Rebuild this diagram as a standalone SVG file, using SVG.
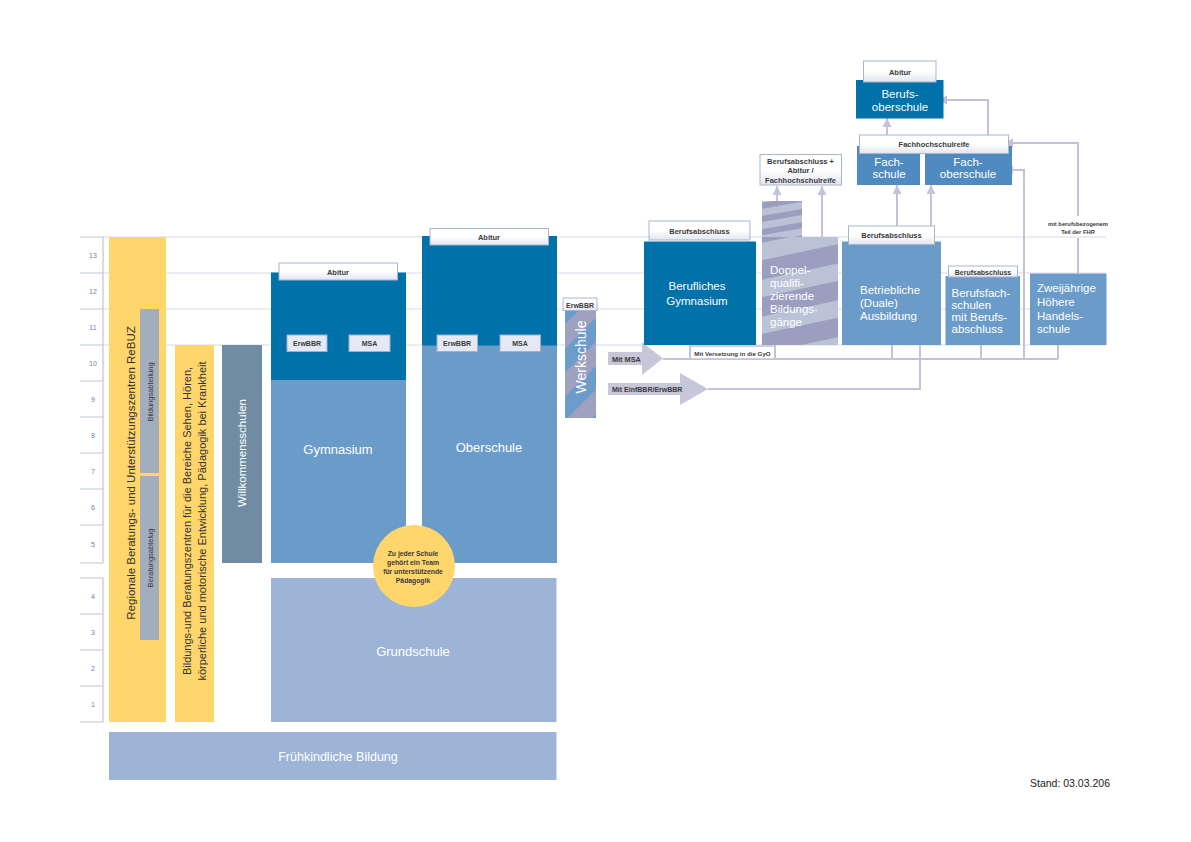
<svg xmlns="http://www.w3.org/2000/svg" width="1191" height="842" viewBox="0 0 1191 842">
<defs>
<linearGradient id="lg" x1="0" y1="0" x2="0" y2="1"><stop offset="0.5" stop-color="#ffffff"/><stop offset="1" stop-color="#e2e5f0"/></linearGradient>
<pattern id="pw" patternUnits="userSpaceOnUse" width="34" height="34" patternTransform="rotate(-45)"><rect width="34" height="34" fill="#9ea1c0"/><rect width="34" height="17" fill="#6d9ccb"/></pattern>
<pattern id="pd" patternUnits="userSpaceOnUse" width="40" height="36" patternTransform="rotate(-12)"><rect width="40" height="36" fill="#9c9ebf"/><rect width="40" height="17" fill="#b9c3d5"/></pattern>
<pattern id="pt" patternUnits="userSpaceOnUse" width="40" height="13" patternTransform="rotate(-10)"><rect width="40" height="13" fill="#9c9ebf"/><rect width="40" height="7" fill="#b9c3d5"/></pattern>
<marker id="ah" viewBox="0 0 10 10" refX="10" refY="5" markerWidth="9" markerHeight="9" markerUnits="userSpaceOnUse" orient="auto"><path d="M0,0 L10,5 L0,10 z" fill="#c3c2d8"/></marker>
<style>
text{font-family:"Liberation Sans",Arial,sans-serif}
.w{fill:#ffffff}
.m{text-anchor:middle}
.lb{font-weight:bold;fill:#3a3a3a;font-size:7.5px;text-anchor:middle}
.lbl{fill:url(#lg);stroke:#aab5cd;stroke-width:1}
.sm{fill:#e6e9f3;stroke:#9fb0cc;stroke-width:1}
.con{fill:none;stroke:#c3c2d8;stroke-width:2}
.arr{marker-end:url(#ah)}
.grid{stroke:#d7dbe5;stroke-width:1}
.tick{stroke:#bcc5d8;stroke-width:1.2;fill:none}
.num{font-size:7px;fill:#6d84ad;text-anchor:middle}
.dk{fill:#0071a9}
.md{fill:#6b9bc8}
.lt{fill:#9db4d7}
.fs{fill:#4f8ac1}
.ye{fill:#fed66b}
.gb{fill:#a2adbe}
.bt{font-size:11.5px}
.big{font-size:13px}
.vt{dominant-baseline:central;text-anchor:middle}
</style>
</defs>

<g id="grid">
<path class="grid" d="M103,237H1106M103,273H1106M103,309H1106M103,345H1106"/>
<path class="tick" d="M103,237V563M103,578V722M80,237H103M80,273H103M80,309H103M80,345H103M80,381H103M80,417H103M80,453H103M80,489H103M80,525H103M80,563H103M80,578H103M80,614H103M80,650H103M80,686H103M80,722H103"/>
<text class="num" x="93" y="258">13</text>
<text class="num" x="93" y="294">12</text>
<text class="num" x="93" y="330">11</text>
<text class="num" x="93" y="366">10</text>
<text class="num" x="93" y="402">9</text>
<text class="num" x="93" y="438">8</text>
<text class="num" x="93" y="474">7</text>
<text class="num" x="93" y="510">6</text>
<text class="num" x="93" y="547">5</text>
<text class="num" x="93" y="599">4</text>
<text class="num" x="93" y="635">3</text>
<text class="num" x="93" y="671">2</text>
<text class="num" x="93" y="707">1</text>
</g>

<g id="rebuz">
<rect class="ye" x="109" y="237" width="57" height="485"/>
<text transform="translate(131,473) rotate(-90)" class="vt" style="font-size:11.5px;fill:#333">Regionale Beratungs- und Unterstützungszentren ReBUZ</text>
</g>
<g id="bildungsabteilung">
<rect class="gb" x="140" y="309" width="19" height="164"/>
<text transform="translate(150,392) rotate(-90)" class="vt" style="font-size:7.5px;fill:#3a3a3a">Bildungsabteilung</text>
</g>
<g id="beratungsabteilung">
<rect class="gb" x="140" y="476" width="19" height="164"/>
<text transform="translate(150,558) rotate(-90)" class="vt" style="font-size:7.5px;fill:#3a3a3a">Beratungsabtelug</text>
</g>
<g id="bildungszentren">
<rect class="ye" x="175" y="345" width="39" height="377"/>
<text transform="translate(187,521) rotate(-90)" class="vt" style="font-size:11px;fill:#333">Bildungs-und Beratungszentren für die Bereiche Sehen, Hören,</text>
<text transform="translate(201.5,521) rotate(-90)" class="vt" style="font-size:11px;fill:#333">körperliche und motorische Entwicklung, Pädagogik bei Krankheit</text>
</g>
<g id="willkommensschulen">
<rect x="222" y="345" width="40" height="218" fill="#6f8ca3"/>
<text transform="translate(242,453) rotate(-90)" class="vt w" style="font-size:11.5px">Willkommensschulen</text>
</g>

<g id="gymnasium">
<rect class="dk" x="271" y="272.5" width="135" height="108"/>
<rect class="md" x="271" y="380" width="135" height="183"/>
<rect class="lbl" x="279" y="263" width="118.5" height="17"/>
<text class="lb" x="338" y="274.5">Abitur</text>
<rect class="sm" x="287" y="335" width="40" height="16.5"/>
<text class="lb" x="307" y="346" style="font-size:7px">ErwBBR</text>
<rect class="sm" x="349" y="335" width="41" height="16.5"/>
<text class="lb" x="369.5" y="346" style="font-size:7px">MSA</text>
<text class="w m big" x="338" y="454">Gymnasium</text>
</g>

<g id="oberschule">
<rect class="dk" x="422" y="236" width="135" height="110"/>
<rect class="md" x="422" y="345.5" width="135" height="217.5"/>
<rect class="lbl" x="430" y="228.5" width="118.5" height="16.5"/>
<text class="lb" x="489" y="240">Abitur</text>
<rect class="sm" x="437" y="335" width="40.5" height="16.5"/>
<text class="lb" x="457" y="346" style="font-size:7px">ErwBBR</text>
<rect class="sm" x="500" y="335" width="40.5" height="16.5"/>
<text class="lb" x="520" y="346" style="font-size:7px">MSA</text>
<text class="w m big" x="489" y="452">Oberschule</text>
</g>

<g id="grundschule">
<rect class="lt" x="271" y="578" width="285.5" height="144"/>
<text class="w m big" x="413" y="656">Grundschule</text>
</g>

<g id="fruehkindlich">
<rect class="lt" x="109" y="732" width="447.5" height="48"/>
<text class="w m" x="338" y="761" style="font-size:12.5px">Frühkindliche Bildung</text>
</g>

<g id="team">
<circle cx="414" cy="566" r="41" class="ye"/>
<text class="lb" x="413" y="556" style="font-size:6.8px">Zu jeder Schule</text>
<text class="lb" x="413" y="565" style="font-size:6.8px">gehört ein Team</text>
<text class="lb" x="413" y="574" style="font-size:6.8px">für unterstützende</text>
<text class="lb" x="413" y="583" style="font-size:6.8px">Pädagogik</text>
</g>

<g id="werkschule">
<rect x="565" y="310" width="31" height="108" fill="url(#pw)"/>
<rect class="lbl" x="563" y="298" width="34" height="12.5"/>
<text class="lb" x="580" y="307.5" style="font-size:7px">ErwBBR</text>
<text transform="translate(580.5,357) rotate(-90)" class="vt w" style="font-size:14px">Werkschule</text>
</g>

<g id="connectors">
<path d="M608,352H642V342L663,358.5L642,375V365H608Z" fill="#c8c7da"/>
<path d="M608,383H680V373L708,389L680,405V395H608Z" fill="#c8c7da"/>
<path class="con" d="M663,359H1058"/>
<path class="con" d="M708,389H920V334" style="marker-end:url(#ah)"/>
<rect x="690" y="346" width="85" height="13" fill="#ffffff" stroke="#c3c2d8" stroke-width="1.5"/>
<path class="con arr" d="M690,359V333"/>
<path class="con arr" d="M775,359V333"/>
<path class="con arr" d="M892,359V333"/>
<path class="con arr" d="M981,359V333"/>
<path class="con arr" d="M1058,359V333"/>
<path class="con arr" d="M1024,359V170H1004"/>
<path class="con arr" d="M897,226V185"/>
<path class="con arr" d="M931,226V185"/>
<path class="con arr" d="M887,135V118"/>
<path class="con arr" d="M988,135V100H938"/>
<path class="con" d="M1078,273V238"/>
<path class="con arr" d="M1078,216V143H1004"/>
<path class="con arr" d="M777,201V186"/>
<path class="con arr" d="M822,237V186"/>
<text x="612" y="361.5" style="font-size:7.3px;font-weight:bold;fill:#3a3a3a">Mit MSA</text>
<text x="612" y="392" style="font-size:7px;font-weight:bold;fill:#3a3a3a">Mit EinfBBR/ErwBBR</text>
<text class="lb" x="732.5" y="355.5" style="font-size:6.2px">Mit Versetzung in die GyO</text>
<text class="lb" x="1078" y="226" style="font-size:5.8px">mit berufsbezogenem</text>
<text class="lb" x="1078" y="234" style="font-size:5.8px">Teil der FHR</text>
</g>

<g id="berufliches-gymnasium">
<rect class="dk" x="644" y="241.5" width="112" height="103.5"/>
<rect class="lbl" x="649" y="221" width="101" height="19"/>
<text class="lb" x="699.5" y="233.5">Berufsabschluss</text>
<text class="w m bt" x="697" y="290">Berufliches</text>
<text class="w m bt" x="697" y="305">Gymnasium</text>
</g>

<g id="doppelqualifizierende">
<rect x="762" y="201" width="40" height="37" fill="url(#pt)"/>
<rect x="762" y="237" width="76" height="108" fill="url(#pd)"/>
<text class="w bt" x="770" y="274">Doppel-</text>
<text class="w bt" x="770" y="287">qualifi-</text>
<text class="w bt" x="770" y="300">zierende</text>
<text class="w bt" x="770" y="313">Bildungs-</text>
<text class="w bt" x="770" y="326">gänge</text>
</g>

<g id="abschluss-doppel">
<rect class="lbl" x="760" y="154.5" width="81.5" height="30.5"/>
<text class="lb" x="800.5" y="163.5">Berufsabschluss +</text>
<text class="lb" x="800.5" y="173">Abitur /</text>
<text class="lb" x="800.5" y="182.5">Fachhochschulreife</text>
</g>

<g id="duale-ausbildung">
<rect class="md" x="842" y="241.5" width="99" height="103.5"/>
<rect class="lbl" x="848.5" y="226" width="86" height="18.5"/>
<text class="lb" x="891.5" y="238">Berufsabschluss</text>
<text class="w bt" x="860" y="294">Betriebliche</text>
<text class="w bt" x="860" y="307">(Duale)</text>
<text class="w bt" x="860" y="320">Ausbildung</text>
</g>

<g id="berufsfachschulen">
<rect class="md" x="945.5" y="276" width="74.5" height="69"/>
<rect class="lbl" x="948.5" y="266" width="69" height="11"/>
<text class="lb" x="983" y="274.5" style="font-size:7px">Berufsabschluss</text>
<text class="w bt" x="951.5" y="297">Berufsfach-</text>
<text class="w bt" x="951.5" y="309">schulen</text>
<text class="w bt" x="951.5" y="321">mit Berufs-</text>
<text class="w bt" x="951.5" y="333">abschluss</text>
</g>

<g id="handelsschule">
<rect class="md" x="1030" y="273.5" width="76.5" height="71.5"/>
<text class="w bt" x="1037" y="292">Zweijährige</text>
<text class="w bt" x="1037" y="305.5">Höhere</text>
<text class="w bt" x="1037" y="319.5">Handels-</text>
<text class="w bt" x="1037" y="333">schule</text>
</g>

<g id="fachschule">
<rect class="fs" x="857" y="146" width="63" height="39"/>
<text class="w m bt" x="889" y="165.5">Fach-</text>
<text class="w m bt" x="889" y="177.5">schule</text>
</g>
<g id="fachoberschule">
<rect class="fs" x="925" y="146" width="87" height="39"/>
<text class="w m bt" x="968" y="165.5">Fach-</text>
<text class="w m bt" x="968" y="177.5">oberschule</text>
</g>
<g id="fachhochschulreife">
<rect class="lbl" x="859.5" y="135" width="149" height="18.5"/>
<text class="lb" x="934" y="147">Fachhochschulreife</text>
</g>

<g id="berufsoberschule">
<rect class="dk" x="856" y="80" width="87.5" height="38.5"/>
<rect class="lbl" x="863.5" y="61" width="72.5" height="21"/>
<text class="lb" x="900" y="74.5">Abitur</text>
<text class="w m bt" x="900" y="97.5">Berufs-</text>
<text class="w m bt" x="900" y="110.5">oberschule</text>
</g>

<text x="1030" y="787" style="font-size:10.5px;fill:#222">Stand: 03.03.206</text>
</svg>
